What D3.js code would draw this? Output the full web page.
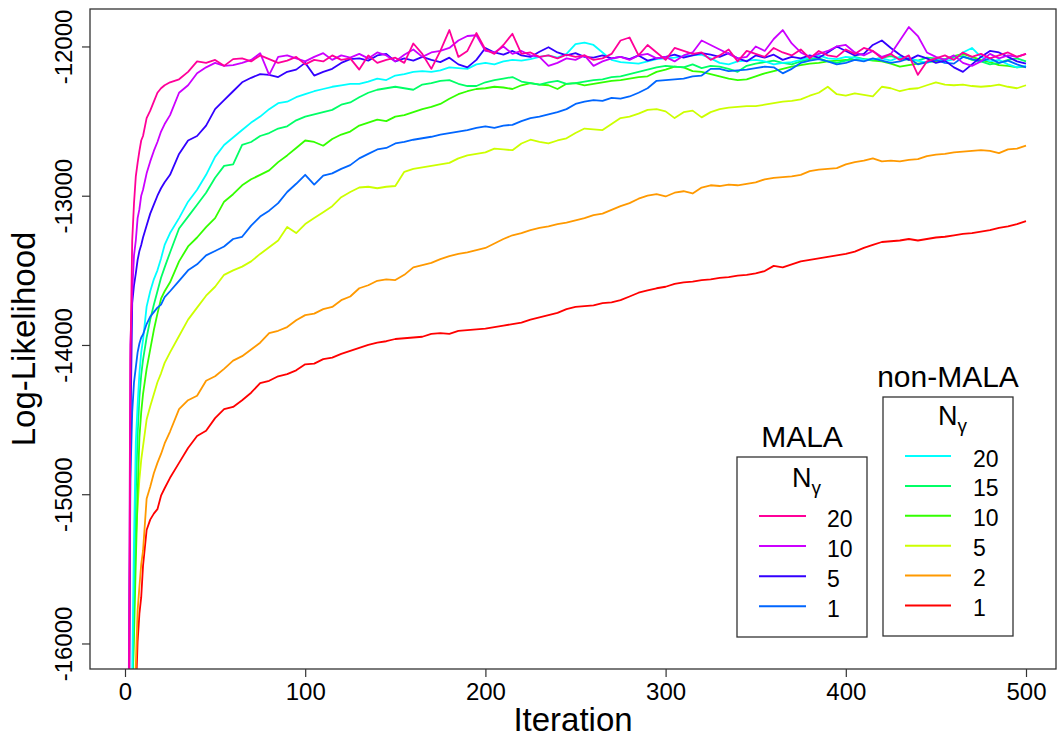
<!DOCTYPE html>
<html>
<head>
<meta charset="utf-8">
<script src="https://cdn.jsdelivr.net/npm/d3@7"></script>
<style>
  body { margin: 0; background: #fff; }
  text { font-family: "Liberation Sans", Arial, sans-serif; fill: #000; }
</style>
</head>
<body>
<script>
const iters = [1,2,3,4,5,6,7,8,9,10,
  12,14,16,18,20,22,25,
  30,35,40,45,50,55,60,65,70,75,
  80,85,90,95,100,105,110,115,120,125,
  130,135,140,145,150,155,160,165,170,175,
  180,185,190,195,200,205,210,215,220,225,
  230,235,240,245,250,255,260,265,270,275,
  280,285,290,295,300,305,310,315,320,325,
  330,335,340,345,350,355,360,365,370,375,
  380,385,390,395,400,405,410,415,420,425,
  430,435,440,445,450,455,460,465,470,475,
  480,485,490,495,500];

// non-MALA
const nm1 = [-19500,-18800,-18200,-17500,-16900,-16350,-15990,-15800,-15690,-15480,
  -15240,-15170,-15130,-15100,-15010,-14960,-14890,
  -14790,-14690,-14610,-14575,-14490,-14430,-14415,-14370,-14320,-14255,
  -14240,-14210,-14195,-14170,-14130,-14125,-14095,-14085,-14060,-14040,
  -14020,-14000,-13985,-13975,-13960,-13955,-13950,-13945,-13925,-13920,
  -13925,-13905,-13900,-13895,-13890,-13880,-13870,-13860,-13850,-13830,
  -13815,-13800,-13785,-13760,-13745,-13740,-13735,-13720,-13715,-13700,
  -13675,-13650,-13635,-13620,-13610,-13590,-13580,-13575,-13565,-13560,
  -13550,-13545,-13535,-13530,-13520,-13505,-13470,-13480,-13460,-13440,
  -13430,-13420,-13410,-13400,-13390,-13375,-13350,-13330,-13310,-13305,
  -13300,-13290,-13300,-13290,-13280,-13275,-13265,-13255,-13250,-13240,
  -13230,-13215,-13205,-13190,-13170];
const nm2 = [-19800,-19000,-18200,-17300,-16600,-16150,-15780,-15620,-15470,-15380,
  -15030,-14950,-14860,-14790,-14730,-14660,-14580,
  -14430,-14370,-14340,-14240,-14210,-14160,-14105,-14075,-14030,-13985,
  -13920,-13905,-13880,-13835,-13800,-13790,-13760,-13745,-13700,-13675,
  -13620,-13600,-13570,-13560,-13565,-13530,-13480,-13465,-13450,-13425,
  -13405,-13390,-13380,-13365,-13350,-13320,-13290,-13265,-13250,-13230,
  -13215,-13205,-13190,-13180,-13165,-13150,-13130,-13120,-13095,-13070,
  -13050,-13020,-13000,-12990,-13005,-12980,-12970,-12985,-12945,-12930,
  -12935,-12925,-12930,-12920,-12910,-12890,-12880,-12875,-12870,-12860,
  -12835,-12825,-12820,-12815,-12790,-12775,-12765,-12750,-12770,-12765,
  -12770,-12760,-12755,-12735,-12725,-12720,-12710,-12705,-12700,-12695,
  -12700,-12715,-12690,-12685,-12665];
const nm5 = [-19500,-18600,-17600,-16600,-15800,-15300,-15080,-14900,-14770,-14680,
  -14500,-14410,-14330,-14250,-14190,-14120,-14050,
  -13940,-13830,-13750,-13670,-13610,-13530,-13500,-13475,-13440,-13390,
  -13345,-13300,-13210,-13250,-13190,-13150,-13110,-13070,-13010,-12975,
  -12945,-12940,-12950,-12940,-12935,-12840,-12820,-12810,-12800,-12790,
  -12780,-12750,-12730,-12720,-12710,-12685,-12690,-12695,-12650,-12625,
  -12640,-12650,-12630,-12615,-12580,-12550,-12555,-12560,-12520,-12480,
  -12470,-12450,-12425,-12420,-12435,-12480,-12440,-12430,-12475,-12440,
  -12420,-12410,-12405,-12400,-12400,-12390,-12380,-12370,-12365,-12355,
  -12330,-12310,-12270,-12320,-12330,-12315,-12325,-12335,-12270,-12280,
  -12300,-12285,-12280,-12260,-12240,-12255,-12260,-12255,-12265,-12270,
  -12265,-12255,-12270,-12280,-12260];
const nm10 = [-19000,-18000,-17000,-16300,-15950,-15450,-15000,-14620,-14450,-14330,
  -14160,-14030,-13900,-13790,-13690,-13640,-13580,
  -13440,-13340,-13280,-13210,-13150,-13040,-12990,-12930,-12890,-12860,
  -12830,-12775,-12730,-12680,-12630,-12640,-12665,-12620,-12590,-12570,
  -12530,-12510,-12490,-12500,-12470,-12460,-12440,-12420,-12405,-12385,
  -12350,-12320,-12300,-12285,-12280,-12270,-12275,-12285,-12260,-12245,
  -12255,-12260,-12285,-12250,-12245,-12260,-12250,-12240,-12230,-12225,
  -12215,-12205,-12200,-12170,-12155,-12135,-12140,-12165,-12170,-12185,
  -12200,-12215,-12225,-12220,-12200,-12180,-12165,-12150,-12135,-12125,
  -12115,-12110,-12100,-12095,-12090,-12090,-12085,-12095,-12100,-12115,
  -12135,-12125,-12115,-12105,-12100,-12085,-12065,-12050,-12070,-12090,
  -12105,-12125,-12130,-12140,-12135];
const nm15 = [-19000,-18000,-17200,-16500,-15600,-15000,-14600,-14350,-14200,-14100,
  -13950,-13830,-13730,-13640,-13550,-13480,-13380,
  -13220,-13140,-13060,-12980,-12880,-12800,-12790,-12660,-12640,-12600,
  -12580,-12550,-12535,-12495,-12470,-12455,-12440,-12425,-12390,-12375,
  -12340,-12310,-12290,-12280,-12270,-12280,-12290,-12255,-12245,-12230,
  -12225,-12250,-12265,-12265,-12240,-12225,-12215,-12205,-12235,-12245,
  -12255,-12240,-12230,-12250,-12245,-12235,-12225,-12220,-12205,-12200,
  -12185,-12170,-12155,-12140,-12130,-12135,-12140,-12120,-12145,-12130,
  -12135,-12150,-12170,-12130,-12115,-12105,-12095,-12110,-12120,-12100,
  -12085,-12080,-12100,-12110,-12095,-12070,-12085,-12090,-12075,-12065,
  -12080,-12090,-12095,-12075,-12080,-12085,-12070,-12065,-12090,-12100,
  -12120,-12110,-12090,-12080,-12100];
const nm20 = [-19000,-18000,-17000,-16200,-15300,-14650,-14400,-14190,-14050,-13966,
  -13743,-13640,-13560,-13500,-13420,-13330,-13250,
  -13150,-13040,-12960,-12860,-12740,-12660,-12610,-12560,-12510,-12470,
  -12420,-12380,-12370,-12340,-12320,-12300,-12285,-12270,-12260,-12250,
  -12250,-12235,-12215,-12225,-12195,-12185,-12170,-12165,-12170,-12160,
  -12140,-12145,-12150,-12120,-12110,-12120,-12100,-12090,-12095,-12085,
  -12070,-12060,-12075,-12050,-11985,-11975,-11990,-12040,-12090,-12105,
  -12110,-12115,-12100,-12085,-12080,-12075,-12065,-12060,-12055,-12080,
  -12110,-12120,-12100,-12095,-12090,-12100,-12120,-12110,-12105,-12090,
  -12075,-12060,-12080,-12085,-12070,-12075,-12090,-12085,-12080,-12095,
  -12070,-12080,-12095,-12110,-12090,-12100,-12085,-12040,-12010,-12070,
  -12100,-12090,-12120,-12140,-12130];

// MALA
const m1 = [-19000,-16800,-14900,-14450,-14250,-14150,-14050,-13990,-13950,-13930,
  -13860,-13810,-13780,-13750,-13730,-13680,-13640,
  -13570,-13500,-13460,-13400,-13370,-13340,-13290,-13275,-13200,-13140,
  -13100,-13050,-12975,-12920,-12860,-12925,-12865,-12850,-12820,-12795,
  -12750,-12720,-12690,-12680,-12650,-12640,-12625,-12615,-12605,-12590,
  -12580,-12570,-12560,-12545,-12535,-12545,-12530,-12525,-12500,-12480,
  -12470,-12455,-12440,-12420,-12385,-12370,-12360,-12365,-12345,-12350,
  -12335,-12310,-12280,-12230,-12225,-12220,-12215,-12200,-12195,-12150,
  -12150,-12165,-12160,-12155,-12145,-12135,-12140,-12180,-12150,-12110,
  -12095,-12085,-12100,-12120,-12110,-12090,-12100,-12080,-12095,-12110,
  -12100,-12080,-12120,-12105,-12090,-12110,-12115,-12070,-12085,-12100,
  -12080,-12110,-12095,-12120,-12140];
const m5 = [-19000,-17200,-14600,-13720,-13600,-13520,-13430,-13370,-13330,-13280,
  -13200,-13120,-13060,-13000,-12950,-12910,-12860,
  -12720,-12630,-12600,-12530,-12420,-12360,-12300,-12240,-12210,-12185,
  -12190,-12205,-12170,-12155,-12110,-12195,-12170,-12150,-12110,-12085,
  -12080,-12095,-12060,-12050,-12100,-12080,-12095,-12070,-12090,-12105,
  -12075,-12120,-12140,-12090,-12010,-12040,-12055,-12030,-12060,-12070,
  -12035,-12005,-12040,-12060,-12045,-12070,-12075,-12060,-12080,-12070,
  -12085,-12060,-12095,-12080,-12070,-12055,-12075,-12060,-12045,-12055,
  -12070,-12045,-12080,-12100,-12060,-12075,-12055,-12090,-12070,-12080,
  -12060,-12075,-12040,-12000,-12030,-12060,-12050,-11990,-11960,-12010,
  -12055,-12090,-12060,-12080,-12110,-12095,-12140,-12170,-12120,-12070,
  -12030,-12040,-12070,-12100,-12115];
const m10 = [-19000,-16500,-14000,-13650,-13400,-13300,-13150,-13090,-13000,-12960,
  -12850,-12770,-12700,-12640,-12570,-12520,-12460,
  -12310,-12260,-12180,-12140,-12110,-12130,-12125,-12110,-12090,-12045,
  -12190,-12070,-12060,-12080,-12100,-12070,-12045,-12090,-12060,-12075,
  -12050,-12080,-12040,-12060,-12100,-12055,-12020,-12070,-12040,-12030,
  -12010,-11960,-11930,-11925,-12030,-12040,-12000,-12050,-12030,-12060,
  -12070,-12130,-12110,-12080,-12090,-12060,-12130,-12100,-12080,-12070,
  -12090,-12060,-12050,-12080,-12070,-12100,-12060,-12040,-11960,-11990,
  -12020,-12050,-12080,-12070,-12000,-12030,-11950,-11890,-11980,-12040,
  -12070,-12050,-12030,-12000,-11990,-12040,-12060,-12030,-12070,-12050,
  -11960,-11870,-11930,-12040,-12070,-12090,-12060,-12110,-12130,-12100,
  -12050,-12080,-12060,-12070,-12050];
const m20 = [-19000,-17500,-14100,-13300,-13050,-12870,-12780,-12700,-12630,-12600,
  -12480,-12430,-12370,-12310,-12280,-12260,-12240,
  -12220,-12170,-12100,-12110,-12090,-12130,-12085,-12080,-12100,-12060,
  -12085,-12110,-12095,-12070,-12120,-12090,-12100,-12060,-12090,-12080,
  -12155,-12060,-12110,-12090,-12075,-12110,-11980,-12050,-12150,-12030,
  -11890,-12070,-12030,-11910,-12020,-12050,-11990,-11915,-12050,-12040,
  -12070,-12060,-12080,-12055,-12070,-12060,-12090,-12080,-12050,-11960,
  -11940,-12060,-11990,-12040,-12090,-12010,-12030,-12050,-12040,-12090,
  -12060,-12020,-12100,-12030,-12050,-12070,-12010,-12040,-12060,-12020,
  -12080,-12030,-12060,-12070,-12020,-12050,-12010,-12030,-12080,-12050,
  -12090,-12060,-12190,-12100,-12080,-12060,-12090,-12040,-12070,-12050,
  -12080,-12060,-12040,-12070,-12050];

const xTicks = [0, 100, 200, 300, 400, 500];
const yTicks = [-16000, -15000, -14000, -13000, -12000];

const malaLabels = ["20", "10", "5", "1"];
const nonMalaLabels = ["20", "15", "10", "5", "2", "1"];

// rainbow(10) like R
const malaColors = ["#FF0099", "#CC00FF", "#3300FF", "#0066FF"];
const nonMalaColors = ["#00FFFF", "#00FF66", "#33FF00", "#CCFF00", "#FF9900", "#FF0000"];

// draw order: red first, pink last
const series = [
  {vals: nm1, col: "#FF0000"},
  {vals: nm2, col: "#FF9900"},
  {vals: nm5, col: "#CCFF00"},
  {vals: nm10, col: "#33FF00"},
  {vals: nm15, col: "#00FF66"},
  {vals: nm20, col: "#00FFFF"},
  {vals: m1, col: "#0066FF"},
  {vals: m5, col: "#3300FF"},
  {vals: m10, col: "#CC00FF"},
  {vals: m20, col: "#FF0099"}
];

const W = 1060, H = 738;
const LEFT = 90, RIGHT = 1056, TOP = 9, BOTTOM = 669;

const svg = d3.select("body").append("svg")
  .attr("width", W)
  .attr("height", H);

const x = d3.scaleLinear().domain([0, 500]).range([125, 1026]);
const y = d3.scaleLinear().domain([-16171, -11749]).range([BOTTOM, TOP]);

svg.append("defs").append("clipPath")
  .attr("id", "plotclip")
  .append("rect")
  .attr("x", LEFT).attr("y", TOP)
  .attr("width", RIGHT - LEFT).attr("height", BOTTOM - TOP);

const line = d3.line()
  .x((d, i) => x(iters[i]))
  .y(d => y(d));

svg.append("g")
  .attr("clip-path", "url(#plotclip)")
  .selectAll("path")
  .data(series)
  .enter()
  .append("path")
  .attr("d", d => line(d.vals))
  .attr("fill", "none")
  .attr("stroke", d => d.col)
  .attr("stroke-width", 1.8)
  .attr("stroke-linejoin", "round");

// box
svg.append("rect")
  .attr("x", LEFT).attr("y", TOP)
  .attr("width", RIGHT - LEFT).attr("height", BOTTOM - TOP)
  .attr("fill", "none")
  .attr("stroke", "#333")
  .attr("stroke-width", 1.3);

// x axis
const xAxis = svg.append("g")
  .attr("transform", `translate(0,${BOTTOM})`)
  .call(d3.axisBottom(x).tickValues(xTicks).tickSize(8).tickPadding(6));
xAxis.select(".domain").remove();
xAxis.selectAll("line").attr("stroke", "#333").attr("stroke-width", 1.2);
xAxis.selectAll("text")
  .style("font-family", '"Liberation Sans", Arial, sans-serif')
  .style("font-size", "24px")
  .attr("fill", "#000");

// y axis, labels rotated like R's las=0
const yAxis = svg.append("g")
  .attr("transform", `translate(${LEFT},0)`)
  .call(d3.axisLeft(y).tickValues(yTicks).tickSize(8).tickFormat(d3.format("d")));
yAxis.select(".domain").remove();
yAxis.selectAll("line").attr("stroke", "#333").attr("stroke-width", 1.2);
yAxis.selectAll("text")
  .attr("transform", "rotate(-90)")
  .attr("x", 0)
  .attr("y", -18)
  .attr("dy", 0)
  .attr("text-anchor", "middle")
  .style("font-family", '"Liberation Sans", Arial, sans-serif')
  .style("font-size", "24px")
  .attr("fill", "#000")
  .text(d => d3.format("d")(d).replace("\u2212", "-"));

// axis titles
svg.append("text")
  .attr("x", (LEFT + RIGHT) / 2)
  .attr("y", 731)
  .attr("text-anchor", "middle")
  .style("font-size", "33px")
  .text("Iteration");

svg.append("text")
  .attr("transform", `translate(35,${(TOP + BOTTOM) / 2}) rotate(-90)`)
  .attr("text-anchor", "middle")
  .style("font-size", "33px")
  .text("Log-Likelihood");

// legends
function legend(opts) {
  const g = svg.append("g");
  g.append("rect")
    .attr("x", opts.x0).attr("y", opts.y0)
    .attr("width", opts.x1 - opts.x0).attr("height", opts.y1 - opts.y0)
    .attr("fill", "#fff")
    .attr("stroke", "#333")
    .attr("stroke-width", 1.3);
  g.append("text")
    .attr("x", (opts.x0 + opts.x1) / 2)
    .attr("y", opts.titleY)
    .attr("text-anchor", "middle")
    .style("font-size", "30px")
    .text(opts.title);
  const nt = g.append("text")
    .attr("x", opts.nX)
    .attr("y", opts.nY)
    .style("font-size", "27px");
  nt.append("tspan").text("N");
  nt.append("tspan").attr("dy", 7).style("font-size", "19px").text("\u03b3");
  opts.labels.forEach(function(lab, i) {
    const ry = opts.rowY + i * opts.rowStep;
    g.append("line")
      .attr("x1", opts.lx0).attr("x2", opts.lx1)
      .attr("y1", ry).attr("y2", ry)
      .attr("stroke", opts.colors[i])
      .attr("stroke-width", 2);
    g.append("text")
      .attr("x", opts.tx)
      .attr("y", ry + 10.5)
      .style("font-size", "23px")
      .text(lab);
  });
}

legend({
  x0: 737, y0: 457, x1: 867, y1: 637,
  title: "MALA", titleY: 447,
  nX: 792, nY: 487,
  labels: malaLabels, colors: malaColors,
  rowY: 516, rowStep: 30.1,
  lx0: 759, lx1: 806, tx: 827
});

legend({
  x0: 883, y0: 397, x1: 1013, y1: 636,
  title: "non-MALA", titleY: 387,
  nX: 938, nY: 425,
  labels: nonMalaLabels, colors: nonMalaColors,
  rowY: 456, rowStep: 29.9,
  lx0: 905, lx1: 951, tx: 973
});
</script>
</body>
</html>
